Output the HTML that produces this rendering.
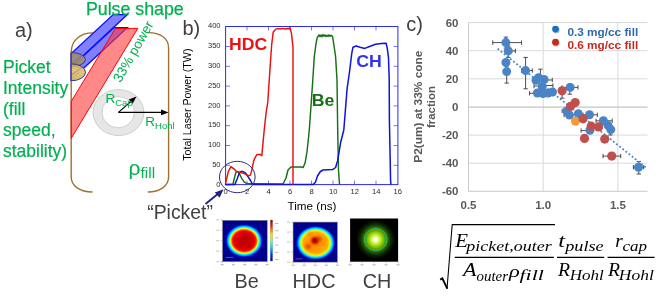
<!DOCTYPE html>
<html><head><meta charset="utf-8"><style>
html,body{margin:0;padding:0;background:#fff;}
svg{display:block;will-change:transform;font-family:"Liberation Sans",sans-serif;}
</style></head><body>
<svg width="660" height="296" viewBox="0 0 660 296">
<defs><radialGradient id="gBe" gradientUnits="userSpaceOnUse" cx="0" cy="0" r="20" gradientTransform="translate(244.2,240.8) scale(1,0.89)"><stop offset="0" stop-color="#b80000"/><stop offset="0.35" stop-color="#d40000"/><stop offset="0.54" stop-color="#f00000"/><stop offset="0.60" stop-color="#ff3000"/><stop offset="0.655" stop-color="#ffb000"/><stop offset="0.695" stop-color="#f0ff20"/><stop offset="0.735" stop-color="#60ffa0"/><stop offset="0.775" stop-color="#00f0ff"/><stop offset="0.83" stop-color="#0090ff"/><stop offset="0.9" stop-color="#0008c8"/><stop offset="1" stop-color="#00008a"/></radialGradient><radialGradient id="gHDC" gradientUnits="userSpaceOnUse" cx="0" cy="0" r="20" gradientTransform="translate(315.6,242.9) scale(1,0.87)"><stop offset="0" stop-color="#ff8000"/><stop offset="0.45" stop-color="#ff9a00"/><stop offset="0.62" stop-color="#ffb000"/><stop offset="0.70" stop-color="#ffe800"/><stop offset="0.76" stop-color="#a0ff60"/><stop offset="0.82" stop-color="#00f0ff"/><stop offset="0.88" stop-color="#0090ff"/><stop offset="0.95" stop-color="#0008c8"/><stop offset="1" stop-color="#00008a"/></radialGradient><radialGradient id="gCH" gradientUnits="userSpaceOnUse" cx="375.6" cy="239.5" r="19.5"><stop offset="0" stop-color="#ffffff"/><stop offset="0.08" stop-color="#f8ffe0"/><stop offset="0.22" stop-color="#d0f040"/><stop offset="0.38" stop-color="#8cc800"/><stop offset="0.52" stop-color="#4c9600"/><stop offset="0.65" stop-color="#2a6000"/><stop offset="0.8" stop-color="#0c2800"/><stop offset="1" stop-color="#000000"/></radialGradient><linearGradient id="gCB" x1="0" y1="1" x2="0" y2="0"><stop offset="0" stop-color="#00008c"/><stop offset="0.15" stop-color="#0030ff"/><stop offset="0.35" stop-color="#00e0ff"/><stop offset="0.5" stop-color="#80ff80"/><stop offset="0.65" stop-color="#ffe000"/><stop offset="0.85" stop-color="#ff2000"/><stop offset="1" stop-color="#900000"/></linearGradient><linearGradient id="gTan" x1="0" y1="0" x2="0" y2="1"><stop offset="0" stop-color="#b8984a"/><stop offset="0.3" stop-color="#e2c878"/><stop offset="1" stop-color="#d4b464"/></linearGradient><filter id="blur05" x="-50%" y="-50%" width="200%" height="200%"><feGaussianBlur stdDeviation="0.6"/></filter><filter id="blur1" x="-50%" y="-50%" width="200%" height="200%"><feGaussianBlur stdDeviation="1.2"/></filter></defs>
<text x="15" y="36.8" font-size="20" fill="#404040">a)</text>
<text x="3" y="72.5" font-size="17.5" fill="#00b050" stroke="#00b050" stroke-width="0.2">Picket</text>
<text x="3" y="93.5" font-size="17.5" fill="#00b050" stroke="#00b050" stroke-width="0.2">Intensity</text>
<text x="3" y="114.5" font-size="17.5" fill="#00b050" stroke="#00b050" stroke-width="0.2">(fill</text>
<text x="3" y="135.5" font-size="17.5" fill="#00b050" stroke="#00b050" stroke-width="0.2">speed,</text>
<text x="3" y="156.5" font-size="17.5" fill="#00b050" stroke="#00b050" stroke-width="0.2">stability)</text>
<path d="M93,32.9 C80,32.9 71.2,40.5 71.2,52.5 L71.2,177 C71.2,186 80,192 92.5,192" fill="none" stroke="#a0702c" stroke-width="1.4"/>
<path d="M148,32.6 C160,32.6 168.6,38 168.6,48 L168.6,177 C168.6,186 160,192 147.8,192" fill="none" stroke="#a0702c" stroke-width="1.4"/>
<polygon points="113.2,14.5 127.4,14.5 71.2,66.8 71.2,53.6" fill="#6b6bff" fill-opacity="0.85" stroke="#0a0aff" stroke-width="1.25"/>
<polygon points="114.0,27.5 127.4,27.5 71.2,79.8 71.2,67.3" fill="#6b6bff" fill-opacity="0.85" stroke="#0a0aff" stroke-width="1.25"/>
<polygon points="115.5,28.4 137.8,28.4 71.2,138.3 71.2,101.5" fill="#ff3b3b" fill-opacity="0.6" stroke="#ff0000" stroke-width="1"/>
<text x="85.9" y="15.3" font-size="17.8" fill="#00b050" stroke="#00b050" stroke-width="0.25">Pulse shape</text>
<path d="M71.2,52.6 A14.3,7.0 0 0 1 71.2,66.6 Z" fill="#a08c70" fill-opacity="0.92" stroke="#33339a" stroke-width="1"/>
<path d="M71.2,63.8 A14.3,8.5 0 0 1 71.2,80.8 Z" fill="url(#gTan)" fill-opacity="0.95" stroke="#33339a" stroke-width="1"/>
<line x1="71.2" y1="75" x2="84" y2="66" stroke="#6a5a8a" stroke-width="0.7" stroke-opacity="0.6"/>
<line x1="71.2" y1="63" x2="84" y2="54" stroke="#6a5a8a" stroke-width="0.7" stroke-opacity="0.6"/>
<path d="M93.1,112.6 a25.4,23 0 1 0 50.8,0 a25.4,23 0 1 0 -50.8,0 Z M102,112.2 a16.2,15.6 0 1 0 32.4,0 a16.2,15.6 0 1 0 -32.4,0 Z" fill="#e6e6e6" fill-rule="evenodd" stroke="#c4c4c4" stroke-width="0.8"/>
<line x1="118.4" y1="112.4" x2="162" y2="112.4" stroke="#000" stroke-width="1.1"/>
<polygon points="168.6,112.4 161,109.6 161,115.2" fill="#000"/>
<line x1="118.4" y1="112.4" x2="131.5" y2="101" stroke="#000" stroke-width="1.1"/>
<polygon points="136.5,96.5 128.8,99.6 132.6,103.8" fill="#000"/>
<text x="105.5" y="103" font-size="13.5" fill="#00b050">R<tspan font-size="9.5" dy="3">Cap</tspan></text>
<text x="145.3" y="126" font-size="13.5" fill="#00b050">R<tspan font-size="9.5" dy="3">Hohl</tspan></text>
<text x="128.5" y="175" font-size="21" fill="#00b050">ρ<tspan font-size="15.5" dy="2.8">fill</tspan></text>
<text transform="translate(120.6,83.2) rotate(-60.5)" font-size="13.5" fill="#00b050">33% power</text>
<text x="182.5" y="34.6" font-size="20" fill="#404040">b)</text>
<rect x="225.6" y="26.5" width="172.29999999999998" height="158.1" fill="none" stroke="#2a2af0" stroke-width="1"/>
<path d="M247.0,184.6 v-4 M247.0,26.5 v4 M268.5,184.6 v-4 M268.5,26.5 v4 M290.0,184.6 v-4 M290.0,26.5 v4 M311.5,184.6 v-4 M311.5,26.5 v4 M333.0,184.6 v-4 M333.0,26.5 v4 M354.5,184.6 v-4 M354.5,26.5 v4 M376.0,184.6 v-4 M376.0,26.5 v4 M225.6,165.3 h4.4 M397.9,165.3 h-4.4 M225.6,145.5 h4.4 M397.9,145.5 h-4.4 M225.6,125.7 h4.4 M397.9,125.7 h-4.4 M225.6,105.9 h4.4 M397.9,105.9 h-4.4 M225.6,86.1 h4.4 M397.9,86.1 h-4.4 M225.6,66.3 h4.4 M397.9,66.3 h-4.4 M225.6,46.5 h4.4 M397.9,46.5 h-4.4" stroke="#2a2af0" stroke-width="0.8" stroke-opacity="0.8" fill="none"/>
<text x="220.6" y="186.7" font-size="7.6" text-anchor="end" fill="#2a2a2a">0</text>
<text x="220.6" y="166.9" font-size="7.6" text-anchor="end" fill="#2a2a2a">50</text>
<text x="220.6" y="147.1" font-size="7.6" text-anchor="end" fill="#2a2a2a">100</text>
<text x="220.6" y="127.3" font-size="7.6" text-anchor="end" fill="#2a2a2a">150</text>
<text x="220.6" y="107.5" font-size="7.6" text-anchor="end" fill="#2a2a2a">200</text>
<text x="220.6" y="87.7" font-size="7.6" text-anchor="end" fill="#2a2a2a">250</text>
<text x="220.6" y="67.9" font-size="7.6" text-anchor="end" fill="#2a2a2a">300</text>
<text x="220.6" y="48.1" font-size="7.6" text-anchor="end" fill="#2a2a2a">350</text>
<text x="220.6" y="28.3" font-size="7.6" text-anchor="end" fill="#2a2a2a">400</text>
<text x="225.7" y="194.0" font-size="7.6" text-anchor="middle" fill="#2a2a2a">0</text>
<text x="247.2" y="194.0" font-size="7.6" text-anchor="middle" fill="#2a2a2a">2</text>
<text x="268.7" y="194.0" font-size="7.6" text-anchor="middle" fill="#2a2a2a">4</text>
<text x="290.2" y="194.0" font-size="7.6" text-anchor="middle" fill="#2a2a2a">6</text>
<text x="311.7" y="194.0" font-size="7.6" text-anchor="middle" fill="#2a2a2a">8</text>
<text x="333.2" y="194.0" font-size="7.6" text-anchor="middle" fill="#2a2a2a">10</text>
<text x="354.7" y="194.0" font-size="7.6" text-anchor="middle" fill="#2a2a2a">12</text>
<text x="376.2" y="194.0" font-size="7.6" text-anchor="middle" fill="#2a2a2a">14</text>
<text x="397.7" y="194.0" font-size="7.6" text-anchor="middle" fill="#2a2a2a">16</text>
<text x="287.6" y="210.4" font-size="10.8" textLength="48.8" lengthAdjust="spacingAndGlyphs" fill="#000">Time (ns)</text>
<text transform="translate(190.8,160.8) rotate(-90)" font-size="10.8" textLength="112.3" lengthAdjust="spacingAndGlyphs" fill="#000">Total Laser Power (TW)</text>
<polyline points="225.3,184.3 233.0,184.0 234.8,176.3 236.0,172.2 237.8,171.6 239.5,173.9 241.9,178.7 244.3,182.2 247.2,183.6 283.0,184.0 286.0,178.0 288.0,170.0 291.0,167.0 301.2,167.0 303.2,167.5 305.2,162.5 307.2,150.3 309.3,130.0 312.8,80.0 314.3,56.5 315.9,44.3 317.3,37.2 318.3,36.2 319.0,34.8 320.0,36.6 321.0,35.0 322.0,36.8 323.0,34.5 324.0,36.2 325.0,35.0 326.0,36.7 327.0,35.2 328.0,36.4 329.0,34.8 330.0,36.3 331.0,35.3 332.5,36.4 333.5,42.3 335.6,56.5 337.0,80.0 337.7,130.0 338.5,170.0 339.5,184.6" fill="none" stroke="#167016" stroke-width="1.45" stroke-linejoin="round"/>
<polyline points="225.3,184.8 234.8,184.6 237.2,178.7 238.9,173.9 240.7,171.6 243.1,171.6 245.4,172.8 247.8,176.3 250.8,181.0 252.2,183.6 254.0,184.6 313.3,184.6 315.5,182.0 317.5,176.0 320.4,171.5 323.0,170.0 332.6,169.6 335.6,167.5 337.7,160.4 340.7,142.2 343.8,130.0 344.9,116.4 347.1,88.6 349.5,72.0 351.8,53.1 353.0,47.2 356.1,46.0 360.1,47.2 364.8,48.4 369.6,46.5 375.5,44.3 381.4,43.6 386.1,43.2 387.3,48.4 388.5,57.8 389.2,79.0 389.4,120.5 390.6,181.2 391.0,184.6" fill="none" stroke="#1212dc" stroke-width="1.5" stroke-linejoin="round"/>
<polyline points="225.3,184.6 228.3,171.6 230.9,166.6 233.6,168.6 236.6,171.6 240.1,172.2 244.9,173.9 248.4,175.7 250.5,175.1 251.7,170.4 253.7,160.9 255.5,156.8 257.1,154.4 260.1,154.4 261.8,155.8 263.2,140.6 264.6,126.4 266.2,112.2 267.8,102.0 270.2,65.6 271.7,44.3 273.2,32.2 275.7,29.1 277.8,28.6 280.0,29.0 282.5,28.4 285.0,29.0 287.5,28.5 289.0,28.8 290.0,27.6 291.5,33.7 293.0,47.4 293.0,184.6" fill="none" stroke="#e81010" stroke-width="1.45" stroke-linejoin="round"/>
<text x="229" y="49.8" font-size="17" font-weight="bold" textLength="38.2" lengthAdjust="spacingAndGlyphs" fill="#ee1111">HDC</text>
<text x="311.8" y="105.8" font-size="16" font-weight="bold" textLength="22.6" lengthAdjust="spacingAndGlyphs" fill="#167016">Be</text>
<text x="356.3" y="66.6" font-size="17" font-weight="bold" textLength="25.6" lengthAdjust="spacingAndGlyphs" fill="#3333ee">CH</text>
<ellipse cx="237.3" cy="177" rx="17.8" ry="15.7" fill="none" stroke="#2e2e80" stroke-width="1"/>
<line x1="205.5" y1="204" x2="219" y2="193" stroke="#22227e" stroke-width="1.8"/>
<polygon points="223.5,189.2 214.8,192.5 219.6,197.8" fill="#22227e"/>
<text x="147.2" y="218.6" font-size="19.4" fill="#404040">“Picket”</text>
<rect x="222.6" y="220.4" width="44.6" height="41.2" fill="url(#gBe)" stroke="#777" stroke-width="0.5"/>
<g filter="url(#blur1)" fill="#a00000" fill-opacity="0.55"><circle cx="247" cy="236" r="3"/><circle cx="240" cy="244" r="2.5"/><circle cx="250" cy="246" r="2.2"/><circle cx="238" cy="236" r="2" fill="#ff2000" fill-opacity="0.5"/></g>
<rect x="225.5" y="256.9" width="8" height="1.1" fill="#b050e0" fill-opacity="0.6"/>
<rect x="270.2" y="220" width="2.5" height="41" fill="url(#gCB)" stroke="#888" stroke-width="0.3"/>
<rect x="275" y="223.0" width="3.5" height="1" fill="#bbb"/>
<rect x="275" y="230.2" width="3.5" height="1" fill="#bbb"/>
<rect x="275" y="237.4" width="3.5" height="1" fill="#bbb"/>
<rect x="275" y="244.6" width="3.5" height="1" fill="#bbb"/>
<rect x="275" y="251.8" width="3.5" height="1" fill="#bbb"/>
<rect x="275" y="259.0" width="3.5" height="1" fill="#bbb"/>
<rect x="293.1" y="222.1" width="44.2" height="40" fill="url(#gHDC)" stroke="#777" stroke-width="0.5"/>
<g filter="url(#blur1)"><circle cx="314.9" cy="240.5" r="3.6" fill="#b00000"/><circle cx="319" cy="239" r="2.5" fill="#e02000" fill-opacity="0.7"/><circle cx="308.1" cy="246.6" r="3" fill="#f03000" fill-opacity="0.7"/><circle cx="323" cy="247" r="2.5" fill="#ffb000" fill-opacity="0.6"/><circle cx="310" cy="234" r="2.5" fill="#ff6a00" fill-opacity="0.5"/></g>
<rect x="295.5" y="258.3" width="7" height="1.1" fill="#b050e0" fill-opacity="0.6"/>
<rect x="350.1" y="218.5" width="48" height="43.2" fill="url(#gCH)"/>
<ellipse cx="375.7" cy="239.5" rx="11.3" ry="10.9" fill="none" stroke="#18c0a0" stroke-width="1"/>
<path d="M220.7,219.8 h1.5 M222.2,261.6 v1.5 M220.7,230.2 h1.5 M233.4,261.6 v1.5 M220.7,240.7 h1.5 M244.7,261.6 v1.5 M220.7,251.2 h1.5 M255.9,261.6 v1.5 M220.7,261.6 h1.5 M267.2,261.6 v1.5 M291.6,222.1 h1.5 M293.1,262.1 v1.5 M291.6,232.1 h1.5 M304.2,262.1 v1.5 M291.6,242.1 h1.5 M315.2,262.1 v1.5 M291.6,252.1 h1.5 M326.2,262.1 v1.5 M291.6,262.1 h1.5 M337.3,262.1 v1.5 M350.1,261.7 v1.5 M362.1,261.7 v1.5 M374.1,261.7 v1.5 M386.1,261.7 v1.5 M398.1,261.7 v1.5" stroke="#999" stroke-width="0.6"/>
<rect x="220.7" y="264.1" width="3" height="1.2" fill="#bbb"/>
<rect x="216.2" y="219.2" width="3" height="1.2" fill="#ccc"/>
<rect x="231.9" y="264.1" width="3" height="1.2" fill="#bbb"/>
<rect x="216.2" y="229.7" width="3" height="1.2" fill="#ccc"/>
<rect x="243.2" y="264.1" width="3" height="1.2" fill="#bbb"/>
<rect x="216.2" y="240.1" width="3" height="1.2" fill="#ccc"/>
<rect x="254.4" y="264.1" width="3" height="1.2" fill="#bbb"/>
<rect x="216.2" y="250.6" width="3" height="1.2" fill="#ccc"/>
<rect x="265.7" y="264.1" width="3" height="1.2" fill="#bbb"/>
<rect x="216.2" y="261.0" width="3" height="1.2" fill="#ccc"/>
<rect x="291.6" y="264.6" width="3" height="1.2" fill="#bbb"/>
<rect x="287.1" y="221.5" width="3" height="1.2" fill="#ccc"/>
<rect x="302.7" y="264.6" width="3" height="1.2" fill="#bbb"/>
<rect x="287.1" y="231.5" width="3" height="1.2" fill="#ccc"/>
<rect x="313.7" y="264.6" width="3" height="1.2" fill="#bbb"/>
<rect x="287.1" y="241.5" width="3" height="1.2" fill="#ccc"/>
<rect x="324.8" y="264.6" width="3" height="1.2" fill="#bbb"/>
<rect x="287.1" y="251.5" width="3" height="1.2" fill="#ccc"/>
<rect x="335.8" y="264.6" width="3" height="1.2" fill="#bbb"/>
<rect x="287.1" y="261.5" width="3" height="1.2" fill="#ccc"/>
<rect x="348.6" y="264.2" width="3" height="1.2" fill="#bbb"/>
<rect x="360.6" y="264.2" width="3" height="1.2" fill="#bbb"/>
<rect x="372.6" y="264.2" width="3" height="1.2" fill="#bbb"/>
<rect x="384.6" y="264.2" width="3" height="1.2" fill="#bbb"/>
<rect x="396.6" y="264.2" width="3" height="1.2" fill="#bbb"/>
<text x="246.6" y="287.6" font-size="19.8" text-anchor="middle" fill="#404040">Be</text>
<text x="314" y="287.6" font-size="19.8" text-anchor="middle" fill="#404040">HDC</text>
<text x="377.1" y="287.6" font-size="19.8" text-anchor="middle" fill="#404040">CH</text>
<text x="406.3" y="30.7" font-size="20" fill="#404040">c)</text>
<path d="M468.5,163.19 H647.5 M468.5,135.07 H647.5 M468.5,78.83 H647.5 M468.5,50.71 H647.5 M468.5,22.59 H647.5 M543.2,22.59 V191.31 M617.9,22.59 V191.31" stroke="#d9d9d9" stroke-width="1" fill="none"/>
<path d="M468.5,107.10 H647.5" stroke="#c4c4c4" stroke-width="1.1" fill="none"/>
<path d="M468.5,22.59 V191.31 H647.5" stroke="#c8c8c8" stroke-width="1" fill="none"/>
<text x="458.5" y="195.3" font-size="11.5" font-weight="bold" text-anchor="end" fill="#595959">-60</text>
<text x="458.5" y="167.2" font-size="11.5" font-weight="bold" text-anchor="end" fill="#595959">-40</text>
<text x="458.5" y="139.1" font-size="11.5" font-weight="bold" text-anchor="end" fill="#595959">-20</text>
<text x="458.5" y="111.0" font-size="11.5" font-weight="bold" text-anchor="end" fill="#595959">0</text>
<text x="458.5" y="82.8" font-size="11.5" font-weight="bold" text-anchor="end" fill="#595959">20</text>
<text x="458.5" y="54.7" font-size="11.5" font-weight="bold" text-anchor="end" fill="#595959">40</text>
<text x="458.5" y="26.6" font-size="11.5" font-weight="bold" text-anchor="end" fill="#595959">60</text>
<text x="468.5" y="209" font-size="11.5" font-weight="bold" text-anchor="middle" fill="#595959">0.5</text>
<text x="543.2" y="209" font-size="11.5" font-weight="bold" text-anchor="middle" fill="#595959">1.0</text>
<text x="617.9" y="209" font-size="11.5" font-weight="bold" text-anchor="middle" fill="#595959">1.5</text>
<text transform="translate(421.9,106.7) rotate(-90)" font-size="11.5" font-weight="bold" text-anchor="middle" textLength="112.2" lengthAdjust="spacingAndGlyphs" fill="#595959">P2(um) at 33% cone</text>
<text transform="translate(435.2,107) rotate(-90)" font-size="11.5" font-weight="bold" text-anchor="middle" fill="#595959">fraction</text>
<path d="M492.7,42.6 H521.5 M492.7,40.4 v4.4 M521.5,40.4 v4.4 M505.9,37.1 V48 M503.7,37.1 h4.4 M503.7,48 h4.4 M508.3,50.9 H515.4 M508.3,48.699999999999996 v4.4 M515.4,48.699999999999996 v4.4 M508.3,46 V57.4 M506.1,46 h4.4 M506.1,57.4 h4.4 M506.7,66 V83.1 M504.5,66 h4.4 M504.5,83.1 h4.4 M525.6,57.4 V88.8 M523.4,57.4 h4.4 M523.4,88.8 h4.4 M521.5,70.6 H532.3 M521.5,68.39999999999999 v4.4 M532.3,68.39999999999999 v4.4 M540.4,69.2 V80 M538.1999999999999,69.2 h4.4 M538.1999999999999,80 h4.4 M538,80 H552.3 M538,77.8 v4.4 M552.3,77.8 v4.4 M534,86 H540 M534,83.8 v4.4 M540,83.8 v4.4 M544,85.5 H552.9 M544,83.3 v4.4 M552.9,83.3 v4.4 M529.6,93.3 H537 M529.6,91.1 v4.4 M537,91.1 v4.4 M562,87.4 H578 M562,85.2 v4.4 M578,85.2 v4.4 M569.8,84 V94.2 M567.5999999999999,84 h4.4 M567.5999999999999,94.2 h4.4 M562.1,91 V98.2 M559.9,91 h4.4 M559.9,98.2 h4.4 M562.1,111 H567 M562.1,108.8 v4.4 M567,108.8 v4.4 M564.1,115.1 H569.5 M564.1,112.89999999999999 v4.4 M569.5,112.89999999999999 v4.4 M583,114.8 H597.3 M583,112.6 v4.4 M597.3,112.6 v4.4 M596,120.8 H612.2 M596,118.6 v4.4 M612.2,118.6 v4.4 M581.1,130.6 H590 M581.1,128.4 v4.4 M590,128.4 v4.4 M610.4,129 V135 M608.1999999999999,129 h4.4 M608.1999999999999,135 h4.4 M603,156.1 H620.7 M603,153.9 v4.4 M620.7,153.9 v4.4 M638.8,161.5 V174 M636.5999999999999,161.5 h4.4 M636.5999999999999,174 h4.4 M633.4,167.2 H643.7 M633.4,165.0 v4.4 M643.7,165.0 v4.4" stroke="#3a3a3a" stroke-width="0.9" fill="none"/>
<line x1="497.6" y1="48.7" x2="646.3" y2="167.9" stroke="#4a84c6" stroke-width="1.8" stroke-dasharray="1.8,2.2"/>
<circle cx="505.9" cy="42.6" r="4.5" fill="#4a84c6"/>
<circle cx="508.3" cy="50.9" r="4.5" fill="#4a84c6"/>
<circle cx="505.9" cy="62.5" r="4.5" fill="#4a84c6"/>
<circle cx="506.7" cy="71.6" r="4.5" fill="#4a84c6"/>
<circle cx="525.6" cy="70.6" r="4.5" fill="#4a84c6"/>
<circle cx="538.5" cy="77.8" r="4.5" fill="#4a84c6"/>
<circle cx="536" cy="80.2" r="4.5" fill="#4a84c6"/>
<circle cx="544.1" cy="79.5" r="4.5" fill="#4a84c6"/>
<circle cx="542.2" cy="86.5" r="4.5" fill="#4a84c6"/>
<circle cx="537.4" cy="93" r="4.5" fill="#4a84c6"/>
<circle cx="543" cy="93.5" r="4.5" fill="#4a84c6"/>
<circle cx="548" cy="93" r="4.5" fill="#4a84c6"/>
<circle cx="552.5" cy="92" r="4.5" fill="#4a84c6"/>
<circle cx="570.2" cy="87.4" r="4.5" fill="#4a84c6"/>
<circle cx="566.8" cy="111" r="4.5" fill="#4a84c6"/>
<circle cx="569.5" cy="115.1" r="4.5" fill="#4a84c6"/>
<circle cx="578.3" cy="113.8" r="4.5" fill="#4a84c6"/>
<circle cx="589.5" cy="114.8" r="4.5" fill="#4a84c6"/>
<circle cx="589.9" cy="130.3" r="4.5" fill="#4a84c6"/>
<circle cx="603.4" cy="120.8" r="4.5" fill="#4a84c6"/>
<circle cx="608.1" cy="125.6" r="4.5" fill="#4a84c6"/>
<circle cx="610.8" cy="129.6" r="4.5" fill="#4a84c6"/>
<circle cx="638.5" cy="167.2" r="4.5" fill="#4a84c6"/>
<circle cx="575.5" cy="121.3" r="4.5" fill="#f39a3c"/>
<circle cx="562.1" cy="90.8" r="4.6" fill="#c0504d"/>
<circle cx="570.6" cy="106.3" r="4.6" fill="#c0504d"/>
<circle cx="575.2" cy="102.6" r="4.6" fill="#c0504d"/>
<circle cx="583.1" cy="118.8" r="4.6" fill="#c0504d"/>
<circle cx="591.2" cy="126.2" r="4.6" fill="#c0504d"/>
<circle cx="598.6" cy="126.9" r="4.6" fill="#c0504d"/>
<circle cx="584.5" cy="138.4" r="4.6" fill="#c0504d"/>
<circle cx="604.7" cy="139.1" r="4.6" fill="#c0504d"/>
<circle cx="611.7" cy="156.1" r="4.6" fill="#c0504d"/>
<circle cx="556.3" cy="30.1" r="3.4" fill="#000" fill-opacity="0.25" filter="url(#blur05)"/>
<circle cx="556.3" cy="43.2" r="3.4" fill="#000" fill-opacity="0.25" filter="url(#blur05)"/>
<circle cx="555.5" cy="29.1" r="3.4" fill="#1a70c8"/>
<circle cx="555.5" cy="42.2" r="3.4" fill="#c8281e"/>
<text x="567.4" y="36" font-size="11.8" font-weight="bold" fill="#2e68ae">0.3 mg/cc fill</text>
<text x="567.4" y="48.7" font-size="11.8" font-weight="bold" fill="#c4291f">0.6 mg/cc fill</text>
<path d="M440.2,279.6 L442.3,278.4 L447.3,288.6" fill="none" stroke="#000" stroke-width="1.9" stroke-linejoin="miter"/>
<path d="M447.0,288.9 L452.2,224.6 H555" fill="none" stroke="#000" stroke-width="1.05"/>
<path d="M454.8,257.4 H553.9 M557,257.4 H604.2 M607.6,257.4 H654.6" stroke="#000" stroke-width="1.2"/>
<text x="455.2" y="247.2" font-size="19" textLength="12.8" lengthAdjust="spacingAndGlyphs" font-family="Liberation Serif" font-style="italic" fill="#000">E</text>
<text x="466.2" y="250.6" font-size="13.6" textLength="85.5" lengthAdjust="spacingAndGlyphs" font-family="Liberation Serif" font-style="italic" fill="#000">picket,outer</text>
<text x="463.0" y="275.9" font-size="19" textLength="13.5" lengthAdjust="spacingAndGlyphs" font-family="Liberation Serif" font-style="italic" fill="#000">A</text>
<text x="476.5" y="280.5" font-size="13.6" textLength="31.5" lengthAdjust="spacingAndGlyphs" font-family="Liberation Serif" font-style="italic" fill="#000">outer</text>
<text x="509.0" y="277.3" font-size="17" textLength="10.8" lengthAdjust="spacingAndGlyphs" font-family="Liberation Serif" font-style="italic" fill="#000">ρ</text>
<text x="519.5" y="280.3" font-size="13.6" textLength="24.5" lengthAdjust="spacingAndGlyphs" font-family="Liberation Serif" font-style="italic" fill="#000">fill</text>
<text x="558.2" y="247.2" font-size="19" textLength="6.8" lengthAdjust="spacingAndGlyphs" font-family="Liberation Serif" font-style="italic" fill="#000">t</text>
<text x="565.2" y="250.6" font-size="13.6" textLength="38.5" lengthAdjust="spacingAndGlyphs" font-family="Liberation Serif" font-style="italic" fill="#000">pulse</text>
<text x="558.0" y="276.0" font-size="19" textLength="12" lengthAdjust="spacingAndGlyphs" font-family="Liberation Serif" font-style="italic" fill="#000">R</text>
<text x="569.8" y="280.2" font-size="13.6" textLength="34" lengthAdjust="spacingAndGlyphs" font-family="Liberation Serif" font-style="italic" fill="#000">Hohl</text>
<text x="615.2" y="246.8" font-size="19" textLength="7.5" lengthAdjust="spacingAndGlyphs" font-family="Liberation Serif" font-style="italic" fill="#000">r</text>
<text x="622.6" y="250.6" font-size="13.6" textLength="24.5" lengthAdjust="spacingAndGlyphs" font-family="Liberation Serif" font-style="italic" fill="#000">cap</text>
<text x="608.0" y="276.0" font-size="19" textLength="12" lengthAdjust="spacingAndGlyphs" font-family="Liberation Serif" font-style="italic" fill="#000">R</text>
<text x="618.8" y="280.2" font-size="13.6" textLength="35" lengthAdjust="spacingAndGlyphs" font-family="Liberation Serif" font-style="italic" fill="#000">Hohl</text>
</svg></body></html>
